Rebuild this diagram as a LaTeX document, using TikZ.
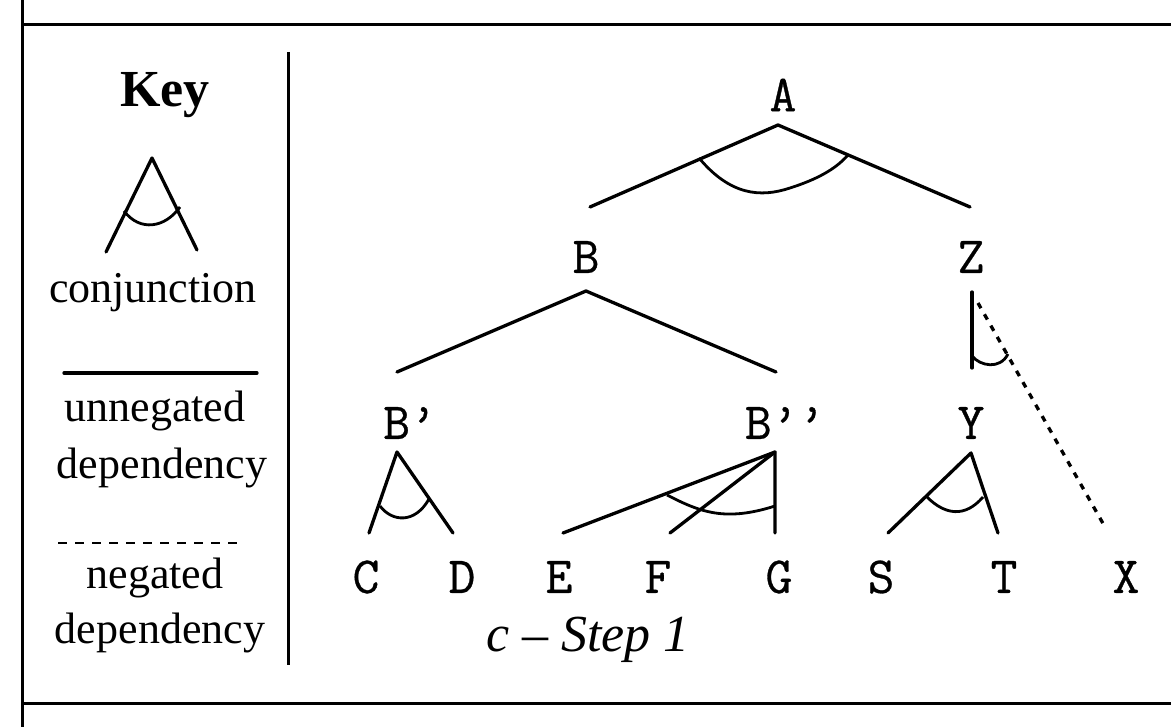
\documentclass[tikz,border=0pt]{standalone}
\usepackage{fontspec}
\setmainfont{Liberation Serif}
\newfontfamily\treefont{Latin Modern Mono}[FakeBold=0.6]
\begin{document}
\begin{tikzpicture}[x=1pt,y=-1pt,
  ln/.style={line width=3.3pt,line cap=round,line join=round},
  neg/.style={line width=3.3pt,dash pattern=on 6pt off 7pt},
  arcl/.style={line width=2.8pt},
  keytxt/.style={font=\fontsize{44}{46}\selectfont,inner sep=0pt},
  lbl/.style={font=\fontsize{52}{54}\selectfont\treefont,inner sep=0pt},
  frame/.style={line width=3pt}]
\useasboundingbox (0,0) rectangle (1171,727);
% outer frame
\draw[frame] (22,0) -- (22,727);
\draw[frame] (22,25) -- (1171,25);
\draw[frame] (22,703) -- (1171,703);
\draw[frame] (288,52) -- (288,665);

% legend
\node[keytxt,font=\fontsize{52}{54}\selectfont\bfseries] (key) at (165,95) {Key};
\coordinate (ka) at (152,158);
\coordinate (kl) at (106,252);
\coordinate (kr) at (197,250);
\draw[ln] (kl) -- (ka) -- (kr);
\draw[arcl] (124,211) .. controls (140,232) and (165,228) .. (180,207);
\node[keytxt] (conj) at (153,293) {conjunction};
\coordinate (s1) at (64,373);
\coordinate (s2) at (257,373);
\draw[ln] (s1) -- (s2);
\node[keytxt] (unneg) at (155,411) {unnegated};
\node[keytxt] (dep1) at (162,468) {dependency};
\coordinate (d1) at (58,543);
\coordinate (d2) at (244,543);
\draw[line width=2.8pt,dash pattern=on 9pt off 8pt] (d1) -- (d2);
\node[keytxt] (neg) at (155,578) {negated};
\node[keytxt] (dep2) at (160,633) {dependency};

% tree labels
\node[lbl] (A) at (783,95) {A};
\node[lbl] (B) at (586,257) {B};
\node[lbl] (Z) at (971,257) {Z};
\node[lbl] (B1) at (410,423) {B’};
\node[lbl] (B2) at (785,423) {B’’};
\node[lbl] (Y) at (971,423) {Y};
\node[lbl] (C) at (366,577) {C};
\node[lbl] (D) at (462,577) {D};
\node[lbl] (E) at (559,577) {E};
\node[lbl] (F) at (658,577) {F};
\node[lbl] (G) at (779,577) {G};
\node[lbl] (S) at (881,577) {S};
\node[lbl] (T) at (1004,577) {T};
\node[lbl] (X) at (1126,577) {X};
\node[font=\fontsize{52}{54}\selectfont\itshape,inner sep=0pt] (cap) at (588,640) {c -- Step 1};

% branch points
\coordinate (Aa) at (778,125);
\coordinate (Al) at (590,207);
\coordinate (Ar) at (970,207);
\coordinate (Ba) at (586,291);
\coordinate (Bl) at (397,372);
\coordinate (Br) at (776,372);
\coordinate (Za) at (972,292);
\coordinate (Zb) at (972,368);
\coordinate (Zs) at (978,303);
\coordinate (Zx) at (1105,527);
\coordinate (B1a) at (397,452);
\coordinate (B1l) at (369,533);
\coordinate (B1r) at (453,533);
\coordinate (B2a) at (775,452);
\coordinate (B2e) at (563,533);
\coordinate (B2f) at (670,533);
\coordinate (B2g) at (775,533);
\coordinate (Ya) at (971,453);
\coordinate (Yl) at (888,533);
\coordinate (Yr) at (998,533);

% A: conjunction of B and Z
\draw[ln] (Al) -- (Aa) -- (Ar);
\draw[arcl] (699,158) .. controls (730,195) and (760,198) .. (790,188)
            .. controls (815,180) and (835,170) .. (848,155);
% B: two dependencies
\draw[ln] (Bl) -- (Ba) -- (Br);
% Z: Y and negated X
\draw[ln] (Za) -- (Zb);
\draw[neg] (Zs) -- (Zx);
\draw[arcl] (972,356) .. controls (980,366) and (1000,370) .. (1008,354);
% B'
\draw[ln] (B1l) -- (B1a) -- (B1r);
\draw[arcl] (380,506) .. controls (392,522) and (415,524) .. (429,499);
% B''
\draw[ln] (B2e) -- (B2a) -- (B2g);
\draw[ln] (B2a) -- (B2f);
\draw[arcl] (667,495) .. controls (700,512) and (725,522) .. (775,506);
% Y
\draw[ln] (Yl) -- (Ya) -- (Yr);
\draw[arcl] (927,497) .. controls (945,515) and (965,518) .. (983,497);
\end{tikzpicture}
\end{document}
